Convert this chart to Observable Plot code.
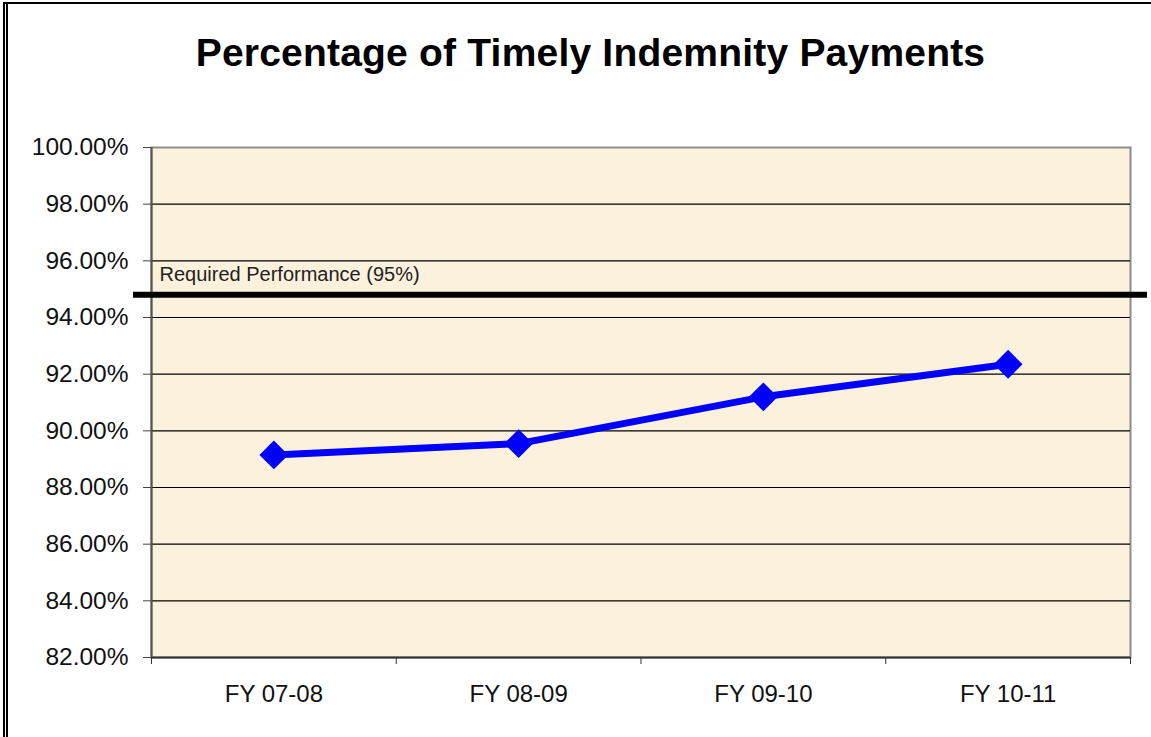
<!DOCTYPE html>
<html><head><meta charset="utf-8">
<script src="https://cdn.jsdelivr.net/npm/d3@7"></script>
<script src="https://cdn.jsdelivr.net/npm/@observablehq/plot@0.6"></script>
<style>
body{margin:0;background:#fff;}
#wrap{position:relative;width:1151px;height:737px;overflow:hidden;background:#fff;font-family:"Liberation Sans",Arial,sans-serif;}
#title{height:110px;box-sizing:border-box;padding-top:34px;padding-left:30px;text-align:center;font-size:39px;line-height:38px;letter-spacing:0.2px;font-weight:bold;color:#000;}
#chart svg{display:block;}
.bl{position:absolute;background:#000;}
</style></head><body>
<div id="wrap">
<div id="title">Percentage of Timely Indemnity Payments</div>
<div id="chart"></div>
<div class="bl" style="left:3px;top:2px;width:2px;height:737px"></div>
<div class="bl" style="left:6px;top:2px;width:2px;height:737px"></div>
<div class="bl" style="left:3px;top:2px;width:1148px;height:2px"></div>
</div>
<script>
const categories = ["FY 07-08", "FY 08-09", "FY 09-10", "FY 10-11"];
const timely = [89.15, 89.55, 91.2, 92.35];
const required = 94.8;
const requiredLabel = "Required Performance (95%)";
const yTicks = [82, 84, 86, 88, 90, 92, 94, 96, 98, 100];

const data = categories.map((c, i) => ({cat: c, i, v: timely[i]}));

const chart = Plot.plot({
  width: 1151,
  height: 627,
  marginTop: 37,
  marginBottom: 80,
  marginLeft: 151,
  marginRight: 21,
  style: {fontFamily: "'Liberation Sans', Arial, sans-serif", fontSize: "24px", color: "#000", background: "transparent"},
  x: {type: "linear", domain: [0, categories.length], label: null},
  y: {domain: [yTicks[0], yTicks[yTicks.length - 1]], label: null},
  marks: [
    Plot.frame({fill: "#FCF1DC", stroke: "#8c8c8c", strokeWidth: 2}),
    Plot.ruleY(yTicks.slice(1, -1), {stroke: "#000", strokeWidth: 1.2}),
    Plot.ruleY([yTicks[0]], {stroke: "#333", strokeWidth: 2}),
    Plot.ruleX([0], {stroke: "#555", strokeWidth: 2}),
    Plot.axisY({ticks: yTicks, label: null, tickSize: 8, tickPadding: 15, tickFormat: d => d.toFixed(2) + "%", fontSize: 24.5, stroke: "#444", fill: "#111"}),
    Plot.axisX({ticks: d3.range(categories.length + 1), label: null, tickSize: 7, tickFormat: () => "", stroke: "#333"}),
    Plot.axisX({ticks: categories.map((c, i) => i + 0.5), label: null, tickSize: 0, tickPadding: 27, tickFormat: d => categories[Math.floor(d)], fontSize: 24, fill: "#111"}),
    Plot.ruleY([required], {stroke: "#000", strokeWidth: 6, insetLeft: -18, insetRight: -17}),
    Plot.text([{label: requiredLabel, v: required}], {y: "v", text: "label", frameAnchor: "left", textAnchor: "start", lineAnchor: "middle", dx: 8, dy: -20, fontSize: 20, fill: "#222"}),
    Plot.line(data, {x: d => d.i + 0.5, y: "v", stroke: "#0000FF", strokeWidth: 7}),
    Plot.dot(data, {x: d => d.i + 0.5, y: "v", symbol: "diamond2", r: 13, fill: "#0000FF", stroke: "none"})
  ]
});
document.getElementById("chart").appendChild(chart);
</script>
</body></html>
